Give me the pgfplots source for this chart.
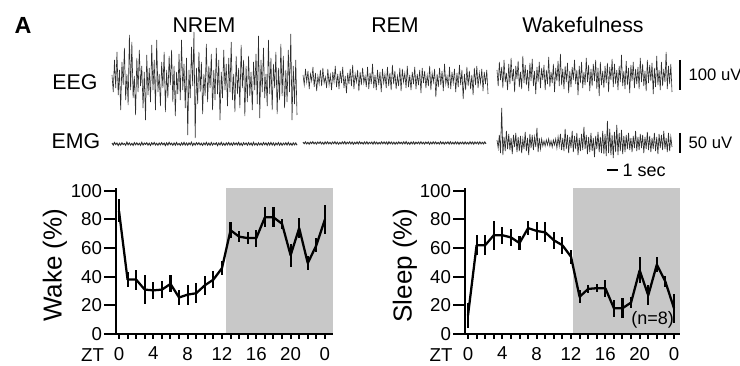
\documentclass[border=0pt]{standalone}
\usepackage{pgfplots}
\pgfplotsset{compat=1.18}
\usepackage{pgfplotstable}
\usepackage{fontspec}
\setmainfont{Liberation Sans}
\setsansfont{Liberation Sans}
\definecolor{shade}{RGB}{200,200,200}
\definecolor{trace}{RGB}{45,45,45}
\newcommand\tf{\fontsize{14}{16}\selectfont}
\newcommand\labfont{\fontsize{19.5}{22}\selectfont}

\pgfplotstableread{
x y e
0 86 8
1 38 5.5
2 38 7
3 31 10
4 30.5 6
5 31 6
6 35 6
7 25.5 5
8 27.5 7
9 28.5 7
10 34 6.5
11 38 6
12 46 5
13 72.5 5.5
14 68 4
15 67 4
16 67 6
17 81.5 7
18 81.5 7
19 77 3.5
20 55 8
21 74 7
22 49.5 5
23 62 5
24 80 10
}\wake

\pgfplotstableread{
x y e
0 13 8.5
1 62 7
2 62 7
3 69 10
4 69 6
5 67.5 6
6 63.5 5
7 74 5
8 72 6.5
9 71 7
10 65.5 6
11 62 6
12 54 5
13 26 4.5
14 31.5 3
15 32 3
16 32 6
17 18 6
18 18 7
19 22 4
20 44.5 9
21 27 7
22 48.5 5
23 36.5 4
24 18 10
}\sleep

% traces (offsets in px): a NREM EEG, b REM EEG, c Wake EEG, d NREM EMG, e REM EMG, f Wake EMG
\pgfplotstableread{
a b c d e f
5 4 6 1 0.8 3
-12 -6 -10 -1 -0.7 -5
20 10 14 1.5 1 8
-8 -3 -4 -0.5 -0.9 -10
28 8 9 1 0.6 35
-15 -10 -12 -1.5 -1.1 -12
10 5 16 0.8 0.9 6
-30 -2 -6 -1 -0.6 -8
18 12 3 1.2 1.2 12
-5 -8 -14 -0.6 -0.8 -6
32 6 12 0.5 0.7 9
-20 -12 -8 -1.2 -1 -7
6 3 18 1.8 0.9 5
-25 -5 -5 -0.8 -0.5 -11
45 9 7 1 1.1 8
-10 -7 -16 -1 -0.9 -4
38 11 10 0.6 0.6 10
-18 -4 -3 -1.4 -1.2 -9
4 2 15 1.3 1 6
-35 -9 -11 -0.7 -0.7 -8
22 10 4 1.1 1.1 7
-12 -6 -13 -0.9 -0.8 -10
30 4 20 0.7 0.7 4
-6 -11 -7 -1.3 -1 -6
14 7 11 1.6 0.9 11
-28 -3 -9 -1 -0.6 -8
8 13 6 0.9 1.2 5
-40 -8 -15 -0.5 -0.9 -12
25 5 13 1.2 0.8 9
-15 -10 -5 -1.1 -1.1 -5
12 8 17 0.8 0.6 8
-22 -4 -10 -1.4 -0.9 -7
35 12 5 1.2 1 6
-10 -9 -18 -0.6 -0.7 -4
20 3 9 1.5 1.3 15
-30 -14 -6 -0.9 -1 -9
40 6 14 0.7 0.8 5
-12 -5 -12 -1.2 -0.6 -6
6 10 8 1 1.1 4
-26 -7 -4 -0.8 -0.9 -3
18 14 11 1.3 0.9 2
-8 -10 -14 -0.7 -1.2 -3
28 5 6 0.9 0.7 3
-32 -3 -8 -1.5 -0.8 -2
10 9 19 1.1 1 4
-18 -12 -11 -1 -0.9 -3
24 7 4 1.6 1.2 2
-5 -6 -7 -0.6 -0.7 -4
30 11 12 0.8 0.6 3
-22 -4 -16 -1.2 -1 -2
14 3 8 1 1 4
-36 -8 -5 -1.1 -0.8 -5
8 12 15 1.4 1.1 6
-14 -10 -10 -0.8 -1 -3
26 6 22 0.6 0.7 9
-20 -5 -9 -1.3 -0.6 -7
40 15 7 1.2 0.9 5
-10 -9 -13 -0.9 -1.1 -8
16 4 10 1.5 1.2 14
-28 -11 -6 -1 -0.8 -6
22 9 13 0.9 0.8 8
-55 -6 -17 -1.2 -1 -10
10 7 5 1.1 0.6 6
-18 -13 -11 -0.7 -0.9 -5
33 10 9 1.7 1.1 12
-6 -4 -4 -1.4 -0.7 -9
48 5 16 0.8 1 7
-58 -9 -8 -1 -0.8 -6
12 12 6 1.3 0.9 10
-24 -7 -19 -0.6 -1.2 -12
28 6 10 1.2 1.2 5
-12 -11 -7 -0.9 -0.7 -8
18 14 14 0.7 0.9 9
-34 -5 -12 -1.3 -1 -7
6 8 4 1 0.8 16
-16 -10 -9 -0.8 -1.1 -6
36 3 18 1.5 0.7 8
-22 -7 -6 -1.1 -0.9 -11
14 11 11 0.9 1 6
-8 -12 -15 -1.2 -0.6 -9
26 10 7 1.4 0.7 10
-30 -3 -10 -1 -0.9 -8
10 6 12 0.8 1.1 5
-20 -9 -5 -0.6 -0.8 -14
32 13 16 1.2 1.3 7
-14 -8 -13 -1.5 -1 -6
20 4 8 1 0.6 11
-40 -11 -20 -0.9 -1.2 -9
8 7 14 1.6 0.9 6
-18 -5 -9 -1.1 -0.8 -10
30 12 5 0.7 1 12
-10 -10 -12 -1.3 -1.1 -11
16 5 10 1.1 0.8 9
-26 -6 -7 -0.8 -0.7 -13
22 9 13 1.4 0.9 22
-12 -14 -16 -1 -0.9 -10
38 11 9 0.9 1.2 14
-20 -4 -4 -1.2 -0.8 -12
6 8 17 1.3 0.7 8
-32 -9 -11 -0.7 -1 -15
24 4 12 1 0.9 11
-14 -7 -8 -0.9 -0.6 -9
12 13 6 1.5 1 18
-28 -11 -14 -1.2 -1.2 -12
35 6 10 0.8 0.8 10
-8 -3 -6 -1.4 -0.9 -8
20 10 21 1.2 1.1 13
-36 -18 -10 -0.6 -0.7 -11
14 5 5 1 1 7
-22 -8 -13 -1.1 -0.9 -9
24 11 15 1.3 0.6 8
-16 -6 -9 -0.8 -1 -6
8 8 8 0.9 1.2 10
-30 -12 -17 -1.3 -0.8 -7
18 15 11 1.6 0.9 5
-10 -5 -5 -1 -1.1 -9
26 3 14 0.7 0.8 7
-24 -9 -12 -1.2 -0.6 -5
44 12 7 1.1 1.1 12
-38 -10 -8 -0.9 -1 -8
20 7 9 0.8 1.1 6
-12 -4 -13 -1.1 -0.9 -7
32 10 18 1.4 0.7 9
-18 -13 -6 -0.7 -1 -5
6 6 12 1 1 8
-26 -8 -10 -1.3 -0.8 -10
40 14 5 1.2 0.9 6
-14 -6 -15 -0.9 -1.2 -6
22 9 16 1.5 0.8 11
-30 -20 -7 -1 -0.7 -7
16 5 11 1.1 0.8 7
-8 -11 -5 -1.4 -1.1 -9
28 12 13 0.9 1 5
-34 -7 -18 -0.8 -0.9 -6
12 8 8 1.3 0.6 10
-20 -10 -11 -1.1 -1 -8
36 4 20 1 1.2 6
-16 -16 -9 -1.2 -0.8 -11
24 11 6 0.8 0.9 9
-28 -6 -14 -0.7 -1.1 -5
10 13 14 1.2 1 8
-22 -9 -10 -1 -0.7 -7
30 6 7 1.5 0.9 12
-12 -4 -6 -0.9 -1 -6
46 10 24 0.7 1.1 5
-40 -12 -13 -1.3 -0.8 -9
14 7 10 1.1 0.7 10
-24 -5 -8 -0.8 -0.9 -8
20 9 12 1 1 6
-35 -15 -16 -1.2 -0.8 -4
}\traces

\pgfplotsset{
  bottomplot/.style={
    anchor=south west, scale only axis,
    height=109.5pt, ymin=0, ymax=102,
    xmin=-0.35,
    axis on top,
    axis lines*=left,
    axis line style={line width=1.6pt, black},
    every tick/.style={black, line width=1.5pt},
    tick align=outside,
    major tick length=3.5pt, minor tick length=3.5pt,
    every y tick/.append style={/pgfplots/major tick length=9pt},
    xtick={0,4,...,24},
    xticklabels={{\tf 0},{\tf 4},{\tf 8},{\tf 12},{\tf 16},{\tf 20},{\tf 0}},
    minor xtick={1,...,23},
    ytick={0,20,...,100},
    yticklabels={{\tf 0},{\tf 20},{\tf 40},{\tf 60},{\tf 80},{\tf 100}},
    xticklabel style={yshift=-2.8pt},
    yticklabel style={xshift=-3.5pt},
  },
  dataline/.style={black, line width=1.7pt, line join=round, mark=none,
    error bars/.cd, y dir=both, y explicit, error mark=none,
    error bar style={line width=1.6pt, black}},
}

\begin{document}
\begin{tikzpicture}
\useasboundingbox (0,0) rectangle (555pt,273.75pt);

% Wake plot
\begin{axis}[bottomplot, at={(87pt,23.25pt)}, width=162.75pt, xmax=24.94,
  ylabel={\labfont Wake (\%)}, ylabel style={at={(axis description cs:-0.281,0.47)}, anchor=center}]
\addplot[fill=shade, draw=none] coordinates {(12.45,102) (24.94,102)} \closedcycle;
\addplot[dataline] table[x=x, y=y, y error=e] {\wake};
\end{axis}

% Sleep plot
\begin{axis}[bottomplot, at={(348.75pt,23.25pt)}, width=161.25pt, xmax=24.7,
  ylabel={\labfont Sleep (\%)}, ylabel style={at={(axis description cs:-0.279,0.47)}, anchor=center}]
\addplot[fill=shade, draw=none] coordinates {(12.25,102) (24.7,102)} \closedcycle;
\addplot[dataline] table[x=x, y=y, y error=e] {\sleep};
\node[font=\fontsize{13.5}{15}\selectfont] at (axis cs:21.5,9.8) {(n=8)};
\end{axis}

% Canvas for traces and labels
\begin{axis}[at={(0pt,0pt)}, anchor=south west, scale only axis,
  width=555pt, height=273.75pt, xmin=0, xmax=740, ymin=0, ymax=365,
  hide axis, clip=false]
\addplot[trace, line width=0.45pt] table[x expr=112+\coordindex*1.2416, y expr=285+\thisrow{a}] {\traces};
\addplot[trace, line width=0.45pt] table[x expr=303+\coordindex*1.2416, y expr=286+\thisrow{b}] {\traces};
\addplot[trace, line width=0.45pt] table[x expr=497+\coordindex*1.1745, y expr=289+\thisrow{c}] {\traces};
\addplot[trace, line width=0.7pt] table[x expr=112+\coordindex*1.2416, y expr=221+\thisrow{d}] {\traces};
\addplot[trace, line width=0.7pt] table[x expr=303+\coordindex*1.2282, y expr=222+\thisrow{e}] {\traces};
\addplot[trace, line width=0.5pt] table[x expr=497+\coordindex*1.1745, y expr=222+\thisrow{f}] {\traces};
% scale bars
\addplot[black, line width=1.5pt] coordinates {(680,305) (680,275)};
\addplot[black, line width=1.5pt] coordinates {(680,232) (680,212)};
\addplot[black, line width=1.5pt] coordinates {(607,195) (618,195)};
\node[anchor=west, font=\fontsize{12.5}{14}\selectfont] at (axis cs:684,290) {100 uV};
\node[anchor=west, font=\fontsize{12.5}{14}\selectfont] at (axis cs:684,222) {50 uV};
\node[anchor=west, font=\fontsize{13.5}{14}\selectfont] at (axis cs:618,195) {1 sec};
% titles and labels
\node[font=\bfseries\fontsize{17.5}{19}\selectfont] at (axis cs:23,340) {A};
\node[font=\fontsize{16}{18}\selectfont] at (axis cs:204,340) {NREM};
\node[font=\fontsize{16}{18}\selectfont] at (axis cs:395,340) {REM};
\node[font=\fontsize{16}{18}\selectfont] at (axis cs:583,340) {Wakefulness};
\node[font=\fontsize{16}{18}\selectfont] at (axis cs:75,282.5) {EEG};
\node[font=\fontsize{16}{18}\selectfont] at (axis cs:76,223.5) {EMG};
\node[font=\tf] at (axis cs:92.5,9.5) {ZT};
\node[font=\tf] at (axis cs:441,9.5) {ZT};
\end{axis}
\end{tikzpicture}
\end{document}
